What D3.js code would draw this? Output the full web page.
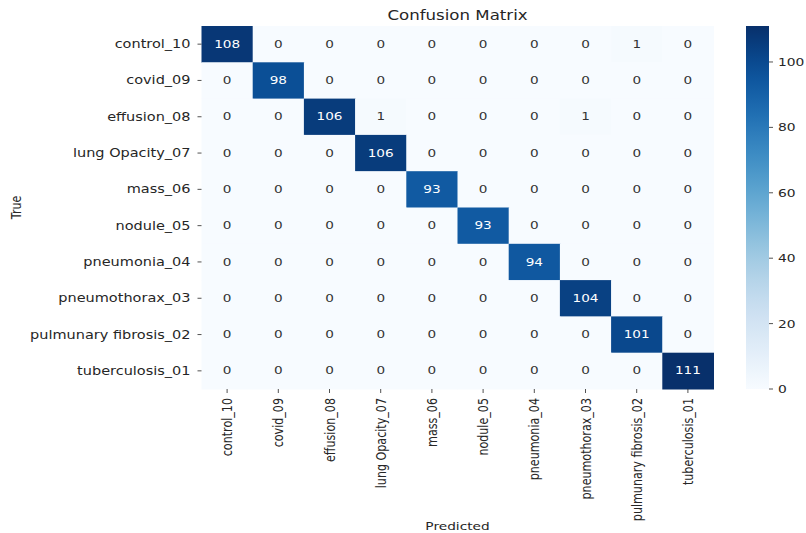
<!DOCTYPE html>
<html>
<head>
<meta charset="utf-8">
<script src="https://cdn.jsdelivr.net/npm/d3@7"></script>
<style>
  body { margin: 0; background: #fff; }
  text { font-family: "DejaVu Sans", sans-serif; fill: #262626; }
</style>
</head>
<body>
<svg id="chart" width="806" height="533"></svg>
<script>
// class labels (rows = true, cols = predicted)
var classes = ["control_10", "covid_09", "effusion_08", "lung Opacity_07", "mass_06",
               "nodule_05", "pneumonia_04", "pneumothorax_03", "pulmunary fibrosis_02", "tuberculosis_01"];

var counts = [
  [108, 0, 0, 0, 0, 0, 0, 0, 1, 0],
  [0, 98, 0, 0, 0, 0, 0, 0, 0, 0],
  [0, 0, 106, 1, 0, 0, 0, 1, 0, 0],
  [0, 0, 0, 106, 0, 0, 0, 0, 0, 0],
  [0, 0, 0, 0, 93, 0, 0, 0, 0, 0],
  [0, 0, 0, 0, 0, 93, 0, 0, 0, 0],
  [0, 0, 0, 0, 0, 0, 94, 0, 0, 0],
  [0, 0, 0, 0, 0, 0, 0, 104, 0, 0],
  [0, 0, 0, 0, 0, 0, 0, 0, 101, 0],
  [0, 0, 0, 0, 0, 0, 0, 0, 0, 111]
];

var colorTicks = [0, 20, 40, 60, 80, 100];

// the picture is stretched a bit: wider than tall
var SX = 1.115, SY = 0.905;

var svg = d3.select("#chart");

var HM_LEFT = 201.5, HM_RIGHT = 713.5, HM_TOP = 26, HM_BOTTOM = 389;

var x = d3.scaleBand().domain(classes).range([HM_LEFT, HM_RIGHT]);
var y = d3.scaleBand().domain(classes).range([HM_TOP, HM_BOTTOM]);

var vmax = d3.max(counts, function(r) { return d3.max(r); });
var color = d3.scaleSequential(d3.interpolateBlues).domain([0, vmax]);

var cells = [];
counts.forEach(function(row, i) {
    row.forEach(function(v, j) {
        cells.push({ t: classes[i], p: classes[j], v: v });
    });
});

var g_cells = svg.append("g");
g_cells.selectAll("rect")
    .data(cells)
    .enter().append("rect")
    .attr("x", function(d) { return x(d.p); })
    .attr("y", function(d) { return y(d.t); })
    .attr("width", x.bandwidth() + 0.5)
    .attr("height", y.bandwidth() + 0.5)
    .style("fill", function(d) { return color(d.v); });

// stretched text helpers
var hText = function(g, px, py, str, size) {
    return g.append("text")
        .attr("transform", "translate(" + px + "," + py + ") scale(" + SX + "," + SY + ")")
        .style("font-size", size + "px")
        .text(str);
};
var vText = function(g, px, py, str, size, along) {
    return g.append("text")
        .attr("transform", "translate(" + px + "," + py + ") rotate(-90) scale(" + (along || SY) + "," + SX + ")")
        .style("font-size", size + "px")
        .text(str);
};

var g_annot = svg.append("g");
cells.forEach(function(d) {
    var c = d3.color(color(d.v)).rgb();
    var lum = 0.2126 * c.r / 255 + 0.7152 * c.g / 255 + 0.0722 * c.b / 255;
    hText(g_annot, x(d.p) + x.bandwidth() / 2, y(d.t) + y.bandwidth() / 2, d.v, 12.2)
        .attr("text-anchor", "middle")
        .attr("dominant-baseline", "central")
        .style("fill", lum < 0.408 ? "#ffffff" : "#333333");
});

// y axis
var g_y = svg.append("g");
classes.forEach(function(c) {
    var cy = y(c) + y.bandwidth() / 2;
    g_y.append("line")
        .attr("x1", HM_LEFT - 4).attr("x2", HM_LEFT)
        .attr("y1", cy).attr("y2", cy)
        .style("stroke", "#262626").style("stroke-width", 0.8);
    hText(g_y, HM_LEFT - 11, cy, c, 13)
        .attr("text-anchor", "end")
        .attr("dominant-baseline", "central");
});

// x axis
var g_x = svg.append("g");
classes.forEach(function(c) {
    var cx = x(c) + x.bandwidth() / 2;
    g_x.append("line")
        .attr("x1", cx).attr("x2", cx)
        .attr("y1", HM_BOTTOM).attr("y2", HM_BOTTOM + 4)
        .style("stroke", "#262626").style("stroke-width", 0.8);
    vText(g_x, cx, HM_BOTTOM + 9, c, 13, 0.856)
        .attr("text-anchor", "end")
        .attr("dominant-baseline", "central");
});

hText(svg, (HM_LEFT + HM_RIGHT) / 2, 20, "Confusion Matrix", 14.9).attr("text-anchor", "middle");
hText(svg, (HM_LEFT + HM_RIGHT) / 2, 530, "Predicted", 12.3).attr("text-anchor", "middle");
vText(svg, 21, (HM_TOP + HM_BOTTOM) / 2, "True", 12.2).attr("text-anchor", "middle");

// colorbar
var cbLeft = 746, cbW = 23;
var cbScale = d3.scaleLinear().domain([0, vmax]).range([HM_BOTTOM, HM_TOP]);
var defs = svg.append("defs");
var grad = defs.append("linearGradient").attr("id", "cbgrad")
    .attr("x1", 0).attr("y1", 1).attr("x2", 0).attr("y2", 0);
d3.range(0, 1.0001, 0.05).forEach(function(t) {
    grad.append("stop").attr("offset", t).attr("stop-color", color(t * vmax));
});
svg.append("rect")
    .attr("x", cbLeft).attr("y", HM_TOP)
    .attr("width", cbW).attr("height", HM_BOTTOM - HM_TOP)
    .style("fill", "url(#cbgrad)");

var g_cb = svg.append("g");
colorTicks.forEach(function(t) {
    var ty = cbScale(t);
    g_cb.append("line")
        .attr("x1", cbLeft + cbW).attr("x2", cbLeft + cbW + 4)
        .attr("y1", ty).attr("y2", ty)
        .style("stroke", "#262626").style("stroke-width", 0.8);
    hText(g_cb, cbLeft + cbW + 9, ty, t, 12.4)
        .attr("dominant-baseline", "central");
});
</script>
</body>
</html>
